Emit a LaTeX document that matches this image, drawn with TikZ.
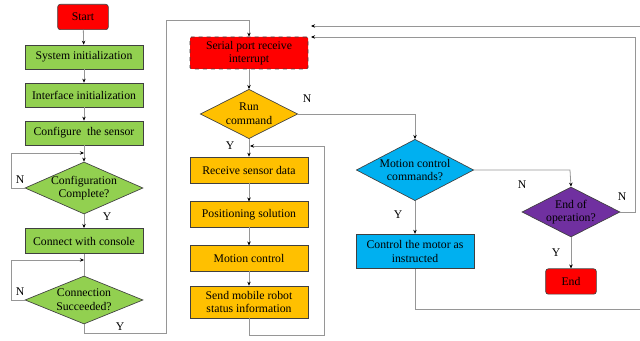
\documentclass[tikz,border=0pt]{standalone}
\usepackage{fontspec}
\setmainfont{Liberation Serif}
\usetikzlibrary{shapes.geometric}
\usetikzlibrary{arrows.meta}
\definecolor{boxgreen}{RGB}{146,208,80}
\definecolor{boxorange}{RGB}{255,192,0}
\definecolor{boxblue}{RGB}{0,176,240}
\definecolor{boxpurple}{RGB}{112,48,160}
\definecolor{linegray}{RGB}{150,150,150}
\tikzset{
    proc/.style={draw=black!75, line width=0.5pt, rectangle, minimum width=88.5pt, minimum height=18pt, inner sep=1pt, align=center},
    term/.style={draw=black!75, line width=0.5pt, rectangle, rounded corners=2pt, fill=red, minimum width=38pt, minimum height=19pt},
    dia/.style={draw=black!75, line width=0.5pt, diamond, inner sep=0pt},
    txt/.style={align=center, inner sep=0pt},
    flow/.style={draw=linegray, line width=0.6pt, -{Stealth[length=3pt,width=2.6pt,color=black]}},
    link/.style={draw=linegray, line width=0.6pt},
}
\begin{document}
\begin{tikzpicture}[x=0.75pt,y=-0.75pt,font=\fontsize{8.8}{10.2}\selectfont]
        \useasboundingbox (0,0) rectangle (640,341);
        \node[term] (start) at (83,17) {Start};
        \node[proc, fill=boxgreen] (sysinit) at (84,57) {System initialization};
        \node[proc, fill=boxgreen] (ifinit) at (84,95) {Interface initialization};
        \node[proc, fill=boxgreen] (cfgsensor) at (84,133) {Configure\ \ the sensor};
        \node[dia, fill=boxgreen, minimum width=88.5pt, minimum height=39pt] (cfgdone) at (84,188) {};
        \node[txt] (cfgdonetxt) at (cfgdone) {Configuration\\Complete?};
        \node[proc, fill=boxgreen, minimum height=19pt] (console) at (84,241) {Connect\ with console};
        \node[dia, fill=boxgreen, minimum width=88.5pt, minimum height=36pt] (connok) at (84,300) {};
        \node[txt] (connoktxt) at (connok) {Connection\\Succeeded?};

        \node[proc, fill=red, dashed, rounded corners=1pt, minimum height=24pt] (serial) at (249,53) {Serial port receive\\interrupt};
        \node[dia, fill=boxorange, minimum width=73pt, minimum height=37pt] (runcmd) at (249,114) {};
        \node[txt] (runcmdtxt) at (runcmd) {Run\\command};
        \node[proc, fill=boxorange, minimum height=19.5pt] (recv) at (249,170) {Receive sensor data};
        \node[proc, fill=boxorange, minimum height=19pt] (posit) at (249,214.5) {Positioning\ solution};
        \node[proc, fill=boxorange, minimum height=19pt] (motion) at (249,258.5) {Motion control};
        \node[proc, fill=boxorange, minimum height=24pt] (sendst) at (249,302) {Send mobile robot\\status information};

        \node[dia, fill=boxblue, minimum width=88pt, minimum height=46pt] (motcmd) at (415,170) {};
        \node[txt] (motcmdtxt) at (motcmd) {Motion control\\commands?};
        \node[proc, fill=boxblue, minimum height=26pt] (ctrlmotor) at (415,251.5) {Control the motor as\\instructed};
        \node[dia, fill=boxpurple, minimum width=73.5pt, minimum height=37.5pt] (endop) at (571,212) {};
        \node[txt] (endoptxt) at (endop) {End of\\operation?};
        \node[term] (stop) at (571,281.5) {End};

        \coordinate (cfgin) at (84,153);
        \coordinate (connin) at (84,260);
        \coordinate (recvin) at (250,146);
        \coordinate (retA) at (311,37);
        \coordinate (retB) at (311,26);

        \draw[flow] (start) -- (sysinit);
        \draw[flow] (sysinit) -- (ifinit);
        \draw[flow] (ifinit) -- (cfgsensor);
        \draw[flow] (cfgsensor) -- (cfgdone);
        \draw[flow] (cfgdone.west) -- (11,188) -- (11,153) -- (cfgin);
        \draw[flow] (cfgdone) -- (console);
        \draw[flow] (connok.west) -- (11,300) -- (11,260) -- (connin);
        \draw[link] (console) -- (connok);
        \draw[flow] (connok.south) -- (84,333) -- (166,333) -- (166,20) -- (249,20) -- (serial.north);
        \draw[flow] (serial) -- (runcmd);
        \draw[flow] (runcmd) -- (recv);
        \draw[flow] (recv) -- (posit);
        \draw[flow] (posit) -- (motion);
        \draw[flow] (motion) -- (sendst);
        \draw[flow] (sendst.south) -- (249,335) -- (324,335) -- (324,146) -- (recvin);
        \draw[flow] (runcmd.east) -- (415,114) -- (motcmd.north);
        \draw[flow] (motcmd) -- (ctrlmotor);
        \draw[flow] (motcmd.east) -- (570,170) -- (endop.north);
        \draw[flow] (endop) -- (stop);
        \draw[flow] (endop.east) -- (635,212) -- (635,37) -- (retA);
        \draw[flow] (ctrlmotor.south) -- (415,309) -- (646,309) -- (646,26) -- (retB);

        \node (nA) at (20,180) {N};
        \node (yA) at (107,217) {Y};
        \node (nB) at (20,292) {N};
        \node (yB) at (120,327) {Y};
        \node (nC) at (307,99) {N};
        \node (yC) at (230,146) {Y};
        \node (yD) at (398,215) {Y};
        \node (nD) at (522,185) {N};
        \node (nE) at (622,197) {N};
        \node (yE) at (556,253) {Y};
    \end{tikzpicture}
\end{document}
